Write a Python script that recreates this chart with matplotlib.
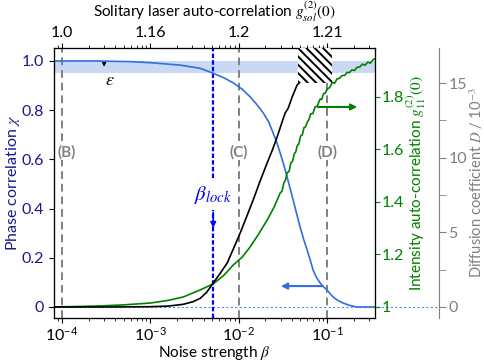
import numpy as np
import matplotlib.pyplot as plt
from matplotlib.patches import Rectangle

plt.rcParams['font.family'] = ['Lato', 'DejaVu Sans']
plt.rcParams['mathtext.fontset'] = 'stix'
plt.rcParams['hatch.linewidth'] = 1.4

# phase correlation chi (left axis), x given as log10(beta)
chi_logb = [-4.09, -3.6, -3.2, -3.0, -2.66, -2.435, -2.288, -2.17, -2.062, -1.96,
            -1.87, -1.80, -1.723, -1.66, -1.61, -1.57, -1.531, -1.49, -1.452, -1.42,
            -1.384, -1.345, -1.305, -1.265, -1.226, -1.19, -1.158, -1.12, -1.079,
            -1.04, -1.0, -0.965, -0.932, -0.88, -0.819, -0.74, -0.661, -0.46]
chi_vals = [1.0, 1.0, 0.997, 0.993, 0.983, 0.970, 0.950, 0.932, 0.911, 0.885,
            0.854, 0.825, 0.789, 0.752, 0.707, 0.67, 0.626, 0.578, 0.528, 0.484,
            0.435, 0.38, 0.325, 0.275, 0.232, 0.19, 0.150, 0.12, 0.098,
            0.082, 0.069, 0.054, 0.041, 0.027, 0.016, 0.006, 0.0, 0.0]

# diffusion coefficient D / 1e-3 (black)
D_logb = [-4.09, -3.5, -3.0, -2.8, -2.627, -2.52, -2.435, -2.36, -2.288, -2.21,
          -2.13, -2.06, -1.983, -1.91, -1.836, -1.76, -1.678, -1.62, -1.565,
          -1.52, -1.475, -1.441, -1.395, -1.339, -1.305, -1.28]
D_vals = [0.0, 0.0, 0.02, 0.06, 0.18, 0.35, 0.58, 1.0, 1.61, 2.25,
          2.95, 3.9, 4.96, 6.05, 7.17, 8.4, 9.65, 10.5, 11.39,
          12.2, 12.99, 13.3, 14.07, 14.87, 15.07, 15.5]

# intensity auto-correlation g11(0) (green)
g_logb = [-4.09, -3.8, -3.565, -3.3, -3.0, -2.8, -2.627, -2.435, -2.288, -2.17,
          -2.062, -1.96, -1.87, -1.78, -1.678, -1.60, -1.531, -1.51, -1.49, -1.47,
          -1.452, -1.43, -1.41, -1.39, -1.37, -1.355, -1.339, -1.32, -1.30, -1.28,
          -1.26, -1.243, -1.226, -1.205, -1.185, -1.16, -1.136, -1.11, -1.079,
          -1.06, -1.04, -1.02, -1.0, -0.97, -0.94, -0.915, -0.887, -0.86, -0.83,
          -0.80, -0.774, -0.75, -0.72, -0.69, -0.661, -0.63, -0.60, -0.57, -0.54,
          -0.51, -0.48, -0.46]
g_vals = [1.0, 1.002, 1.004, 1.008, 1.015, 1.025, 1.038, 1.065, 1.088, 1.12,
          1.16, 1.19, 1.229, 1.275, 1.331, 1.38, 1.434, 1.441, 1.472, 1.484,
          1.512, 1.516, 1.548, 1.556, 1.585, 1.59, 1.613, 1.621, 1.651, 1.656,
          1.684, 1.686, 1.703, 1.714, 1.736, 1.737, 1.762, 1.766, 1.792,
          1.791, 1.813, 1.814, 1.83, 1.836, 1.856, 1.852, 1.869, 1.871, 1.882,
          1.882, 1.894, 1.892, 1.903, 1.901, 1.913, 1.914, 1.925, 1.921, 1.933,
          1.929, 1.942, 1.945]

beta_lock = 5.15e-3
mark_x = [1e-4, 1e-2, 1e-1]
mark_text_x = [1.13e-4, 1e-2, 1e-1]
mark_labels = ['(B)', '(C)', '(D)']
top_ticks = [1e-4, 1e-3, 1e-2, 1e-1]
top_labels = ['1.0', '1.16', '1.2', '1.21']

navy = '#1a1a8a'
blue = '#2f6fe0'
green = '#008000'
grey = '#808080'

fig = plt.figure(figsize=(4.84, 3.64), dpi=100)
ax = fig.add_axes([0.1116, 0.1264, 0.6632, 0.7418])
axg = ax.twinx()
axd = ax.twinx()
axt = ax.twiny()

xlim = (10 ** -4.09, 10 ** -0.4576)

# left axis: phase correlation
ax.axhspan(0.95, 1.0, color='#c9d8f3', lw=0, zorder=0)
for xm in mark_x:
    ax.axvline(xm, color=grey, ls=(0, (4, 2.5)), lw=1.4, zorder=1)
for xt, lbl in zip(mark_text_x, mark_labels):
    ax.text(xt, 0.63, lbl, color=grey, fontweight='bold', fontsize=11,
            ha='center', va='center', zorder=3,
            bbox=dict(fc='white', ec='none', pad=0.5))
ax.axvline(beta_lock, color='blue', ls=(0, (2, 1)), lw=1.6, zorder=2)
ax.axhline(0, xmin=-0.02, xmax=1.2, color='#5b8be0', ls=(0, (2, 2)), lw=0.8,
           clip_on=False, zorder=1)
ax.plot(10 ** np.array(chi_logb), chi_vals, color=blue, lw=1.2, zorder=4)

ax.annotate('', xy=(3.0e-4, 0.965), xytext=(3.0e-4, 1.0),
            arrowprops=dict(arrowstyle='-|>', color='black', lw=0.8, mutation_scale=6))
ax.text(3.48e-4, 0.922, r'$\varepsilon$', fontsize=13, ha='center', va='center')
ax.text(beta_lock, 0.455, r'$\beta_{lock}$', color='blue', fontsize=15,
        ha='center', va='center', zorder=3,
        bbox=dict(fc='white', ec='none', pad=3))
ax.annotate('', xy=(beta_lock, 0.31), xytext=(beta_lock, 0.395),
            arrowprops=dict(arrowstyle='-|>', color='blue', lw=1.2, mutation_scale=8),
            zorder=4)
ax.annotate('', xy=(0.0279, 0.085), xytext=(0.0948, 0.085),
            arrowprops=dict(arrowstyle='-|>', color=blue, lw=1.5, mutation_scale=9))
ax.annotate('', xy=(0.236, 0.813), xytext=(0.0731, 0.813),
            arrowprops=dict(arrowstyle='-|>', color=green, lw=1.5, mutation_scale=9))

ax.set_xscale('log')
ax.set_xlim(xlim)
ax.set_ylim(-0.0447, 1.0528)
ax.set_yticks([0, 0.2, 0.4, 0.6, 0.8, 1.0])
ax.set_yticklabels(['0', '0.2', '0.4', '0.6', '0.8', '1.0'])
ax.tick_params(axis='y', colors='black', labelcolor=navy, labelsize=11.5, direction='out')
ax.tick_params(axis='x', labelsize=11.5, direction='out', pad=2)
ax.tick_params(axis='x', which='minor', direction='out')
ax.set_ylabel(r'Phase correlation $\chi$', color=navy, fontsize=11.5, labelpad=0)
ax.set_xlabel(r'Noise strength $\beta$', fontsize=11, labelpad=0)

# green axis: intensity auto-correlation
axg.plot(10 ** np.array(g_logb), g_vals, color=green, lw=1.2)
axg.set_ylim(0.958, 1.9867)
axg.set_yticks([1, 1.2, 1.4, 1.6, 1.8])
axg.set_yticklabels(['1', '1.2', '1.4', '1.6', '1.8'])
axg.tick_params(axis='y', colors=green, labelsize=11.5, direction='out', pad=1)
axg.set_ylabel(r'Intensity auto-correlation $g_{11}^{(2)}(0)$', color=green,
               fontsize=11, labelpad=1)

# grey axis: diffusion coefficient
axd.plot(10 ** np.array(D_logb), D_vals, color='black', lw=1.2)
axd.spines['right'].set_position(('axes', 1.199))
axd.spines['right'].set_color(grey)
for s in ['top', 'left', 'bottom']:
    axd.spines[s].set_visible(False)
axd.set_ylim(-0.737, 17.35)
axd.set_yticks([0, 5, 10, 15])
axd.set_yticks([2.5, 7.5, 12.5], minor=True)
axd.tick_params(axis='y', which='both', colors=grey, labelsize=11.5, direction='out',
                length=5, pad=2)
axd.set_ylabel(r'Diffusion coefficient $D$ / 10$^{-3}$', color=grey, fontsize=10.5,
               labelpad=0)

# top axis: solitary laser auto-correlation
axt.set_xscale('log')
axt.set_xlim(xlim)
axt.set_xticks(top_ticks)
axt.set_xticklabels(top_labels)
axt.tick_params(axis='x', labelsize=11.5, direction='out', pad=2)
axt.set_xlabel(r'Solitary laser auto-correlation $g_{sol}^{(2)}(0)$', fontsize=11,
               labelpad=6)

axt.add_patch(Rectangle((0.047, 0.91), 0.1138 - 0.047, 0.2, transform=ax.transData,
                        fc='white', ec='black', lw=0, hatch=r'\\\\', zorder=5,
                        clip_on=True, clip_box=ax.bbox))
axt.set_xlim(xlim)

fig.savefig('out.png', dpi=100)
